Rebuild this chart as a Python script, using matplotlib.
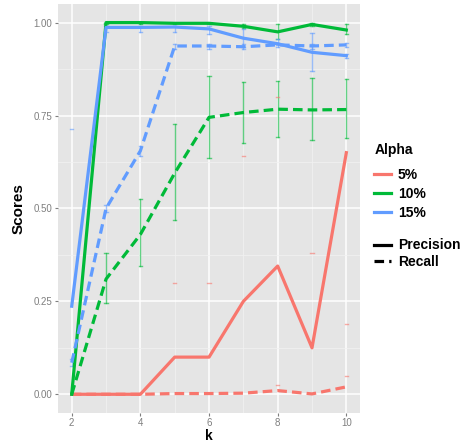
import numpy as np
import matplotlib.pyplot as plt
from matplotlib.lines import Line2D

plt.rcParams['font.family'] = ['Liberation Sans', 'DejaVu Sans']

# k values
k = [2, 3, 4, 5, 6, 7, 8, 9, 10]

# precision (solid) and recall (dashed) per alpha
prec_5 = [0.0, 0.0, 0.0, 0.10, 0.10, 0.25, 0.345, 0.125, 0.65]
rec_5 = [0.0, 0.0, 0.0, 0.002, 0.002, 0.003, 0.01, 0.001, 0.02]
prec_10 = [0.0, 1.0, 1.0, 0.998, 0.998, 0.99, 0.975, 0.995, 0.98]
rec_10 = [0.0, 0.31, 0.43, 0.595, 0.745, 0.758, 0.767, 0.765, 0.766]
prec_15 = [0.237, 0.987, 0.987, 0.988, 0.983, 0.958, 0.943, 0.92, 0.911]
rec_15 = [0.085, 0.50, 0.655, 0.937, 0.937, 0.935, 0.94, 0.937, 0.94]

# error bar ranges (lower, upper); nan = not drawn
prec_10_lo = [np.nan, 0.997, 0.997, 0.995, 0.995, 0.985, 0.955, 0.99, 0.97]
prec_10_hi = [np.nan, 1.0, 1.0, 1.0, 1.0, 0.997, 0.997, 1.0, 0.995]
rec_10_lo = [np.nan, 0.245, 0.345, 0.47, 0.635, 0.677, 0.692, 0.683, 0.689]
rec_10_hi = [np.nan, 0.38, 0.525, 0.728, 0.855, 0.84, 0.843, 0.85, 0.847]
prec_15_lo = [np.nan, 0.975, 0.975, 0.975, 0.97, 0.934, 0.94, 0.87, 0.905]
prec_15_hi = [np.nan, 0.99, 0.99, 0.99, 0.99, 0.982, 0.955, 0.973, 0.915]
rec_15_lo = [0.075, 0.49, 0.64, 0.93, 0.93, 0.93, 0.935, 0.93, 0.935]
rec_15_hi = [0.095, 0.51, 0.667, 0.942, 0.942, 0.942, 0.945, 0.942, 0.945]

# caps visible without bars
cap_5_k = [5, 6, 7, 8, 8, 9, 10, 10]
cap_5_val = [0.30, 0.30, 0.64, 0.80, 0.025, 0.38, 0.19, 0.05]
cap_15_k = [2]
cap_15_val = [0.714]

red, green, blue = "#F8766D", "#00BA38", "#619CFF"

fig = plt.figure(figsize=(4.64, 4.43), dpi=100)
ax = fig.add_axes([0.125, 0.068, 0.651, 0.923])
ax.set_facecolor("#E5E5E5")

def errbars(lo, hi, color):
    for x, a, b in zip(k, lo, hi):
        if np.isnan(a):
            continue
        ax.plot([x, x], [a, b], color=color, lw=1.0, alpha=0.6, zorder=2)
        ax.plot([x - 0.05, x + 0.05], [a, a], color=color, lw=1.0, alpha=0.6, zorder=2)
        ax.plot([x - 0.05, x + 0.05], [b, b], color=color, lw=1.0, alpha=0.6, zorder=2)

errbars(prec_10_lo, prec_10_hi, green)
errbars(rec_10_lo, rec_10_hi, green)
errbars(prec_15_lo, prec_15_hi, blue)
errbars(rec_15_lo, rec_15_hi, blue)
for x, v in zip(cap_5_k, cap_5_val):
    ax.plot([x - 0.05, x + 0.05], [v, v], color=red, lw=1.0, alpha=0.6, zorder=2)
for x, v in zip(cap_15_k, cap_15_val):
    ax.plot([x - 0.05, x + 0.05], [v, v], color=blue, lw=1.0, alpha=0.6, zorder=2)

dash = (0, (3.0, 1.6))
for p, r, c in [(prec_5, rec_5, red), (prec_10, rec_10, green), (prec_15, rec_15, blue)]:
    ax.plot(k, p, color=c, lw=2.3, zorder=3)
    ax.plot(k, r, color=c, lw=2.3, ls=dash, zorder=3)

ax.set_xlim(1.6, 10.4)
ax.set_ylim(-0.05, 1.05)
ax.set_xticks([2, 4, 6, 8, 10])
ax.set_xticks([3, 5, 7, 9], minor=True)
ax.set_yticks([0, 0.25, 0.5, 0.75, 1.0])
ax.set_yticklabels(["0.00", "0.25", "0.50", "0.75", "1.00"])
ax.set_yticks([0.125, 0.375, 0.625, 0.875], minor=True)
ax.grid(which="major", color="white", lw=1.1, zorder=0)
ax.grid(which="minor", color="#F2F2F2", lw=0.5, zorder=0)
ax.set_axisbelow(True)
for s in ax.spines.values():
    s.set_visible(False)
ax.tick_params(which="major", colors="#7F7F7F", labelsize=7, length=2.5, width=0.8, pad=1.5)
ax.tick_params(which="minor", length=0)
ax.set_xlabel("k", fontsize=10, fontweight="bold", va="bottom")
ax.xaxis.set_label_coords(0.5, -0.0735)
ax.set_ylabel("Scores", fontsize=11, fontweight="bold", labelpad=6)

h1 = [Line2D([], [], color=c, lw=2.3) for c in (red, green, blue)]
leg1 = fig.legend(h1, ["5%", "10%", "15%"], title="Alpha", loc="upper left",
                  bbox_to_anchor=(0.78, 0.705), frameon=False, handlelength=1.2,
                  labelspacing=0.35, handletextpad=0.5,
                  prop={"weight": "bold", "size": 10})
leg1.get_title().set_fontweight("bold")
leg1.get_title().set_fontsize(10)
leg1._legend_box.align = "left"
leg1._legend_box.sep = 8
h2 = [Line2D([], [], color="black", lw=2.3), Line2D([], [], color="black", lw=2.3, ls=dash)]
fig.legend(h2, ["Precision", "Recall"], loc="upper left",
           bbox_to_anchor=(0.78, 0.49), frameon=False, handlelength=1.2,
           labelspacing=0.15, handletextpad=0.5,
           prop={"weight": "bold", "size": 10})

fig.savefig("out.png", dpi=100)
